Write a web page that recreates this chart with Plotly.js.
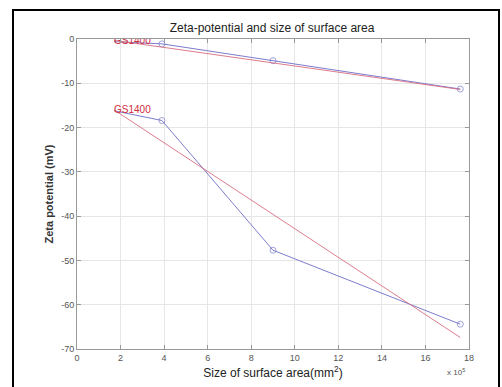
<!DOCTYPE html>
<html><head><meta charset="utf-8">
<script src="https://cdn.plot.ly/plotly-3.0.1.min.js"></script>
<style>
html,body{margin:0;padding:0;background:#fff;}
#frame{position:absolute;left:12px;top:9px;width:488px;height:400px;border:2px solid #000;box-sizing:border-box;}
#chart{position:absolute;left:0;top:0;width:502px;height:387px;}
</style></head>
<body>
<div id="frame"></div>
<div id="chart"></div>
<script>
// x values in units of 10^5 mm^2
const sizeX = [1.7, 3.9, 9.0, 17.6];
const zetaUpper = [-0.6, -1.1, -4.9, -11.3];
const zetaLower = [-16.2, -18.4, -47.7, -64.4];
const fitX = [1.7, 17.6];
const fitUpper = [-0.3, -11.4];
const fitLower = [-16.0, -67.4];
const labelText = ["GS1400", "GS1400"];
const labelX = [1.7, 1.7];
const labelY = [-0.6, -16.2];
const xTicks = [0, 2, 4, 6, 8, 10, 12, 14, 16, 18];
const yTicks = [0, -10, -20, -30, -40, -50, -60, -70];

const blue = 'rgba(110,110,200,0.9)';
const red = 'rgba(215,110,130,0.9)';
const markerSizes = [0, 6, 6, 6];

const traces = [
  {x: sizeX, y: zetaUpper, mode: 'lines+markers', line: {color: blue, width: 1},
   marker: {symbol: 'circle-open', size: markerSizes, color: blue, line: {width: 1}}},
  {x: fitX, y: fitUpper, mode: 'lines', line: {color: red, width: 1}},
  {x: sizeX, y: zetaLower, mode: 'lines+markers', line: {color: blue, width: 1},
   marker: {symbol: 'circle-open', size: markerSizes, color: blue, line: {width: 1}}},
  {x: fitX, y: fitLower, mode: 'lines', line: {color: red, width: 1}},
  {x: labelX, y: labelY, mode: 'text', text: labelText, textposition: 'middle right',
   textfont: {family: 'Liberation Sans, Arial', size: 10, color: '#d02c3c'}}
];

const axisCommon = {
  showline: true, linecolor: '#999', linewidth: 1, mirror: 'ticks',
  ticks: 'inside', ticklen: 4, tickcolor: '#999',
  showgrid: true, gridcolor: '#e6e6e6', gridwidth: 1, zeroline: false,
  tickfont: {family: 'Liberation Sans, Arial', size: 9, color: '#555'}
};

const layout = {
  width: 502, height: 387,
  margin: {l: 77, r: 33, t: 39, b: 38},
  paper_bgcolor: 'rgba(0,0,0,0)', plot_bgcolor: '#fff',
  showlegend: false,
  title: {text: 'Zeta-potential and size of surface area', x: 0.542, xanchor: 'center',
          y: 0.928, yanchor: 'middle',
          font: {family: 'Liberation Sans, Arial', size: 12, color: '#222'}},
  xaxis: Object.assign({}, axisCommon, {
    range: [0, 18], tickvals: xTicks, ticktext: xTicks.map(String),
    title: {text: 'Size of surface area(mm<sup>2</sup>)', standoff: 6,
            font: {family: 'Liberation Sans, Arial', size: 12, color: '#222'}}
  }),
  yaxis: Object.assign({}, axisCommon, {
    range: [-70, 0], tickvals: yTicks, ticktext: yTicks.map(String),
    title: {text: '<b>Zeta potential (mV)</b>', standoff: 5,
            font: {family: 'Liberation Sans, Arial', size: 11, color: '#333'}}
  }),
  annotations: [{xref: 'paper', yref: 'paper', x: 0.94, y: -0.05, xanchor: 'left', yanchor: 'top',
    text: 'x 10<sup>5</sup>', showarrow: false,
    font: {family: 'Liberation Sans, Arial', size: 8, color: '#555'}}]
};

Plotly.newPlot('chart', traces, layout, {displayModeBar: false, staticPlot: true});
</script>
</body></html>
